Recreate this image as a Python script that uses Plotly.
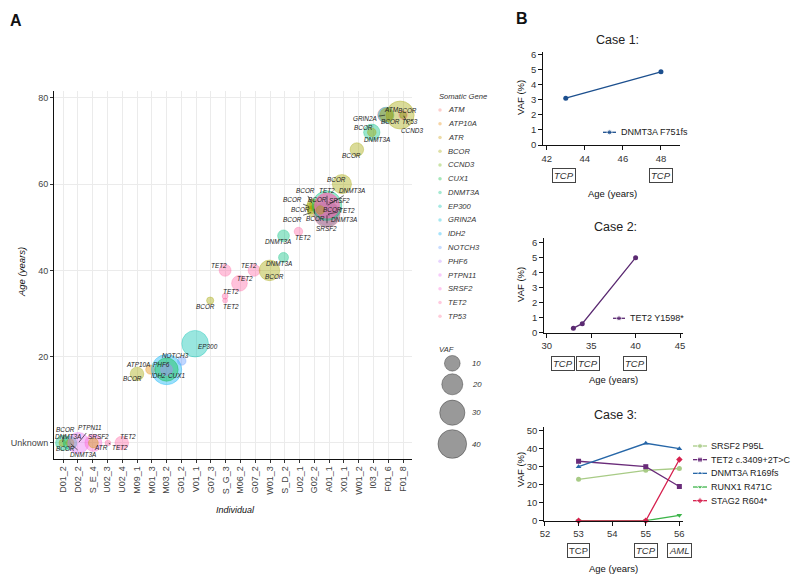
import math
import plotly.graph_objects as go

W, H = 792, 584

# ---------------- DATA ----------------
individuals = ["D01_2", "D02_2", "S_E_4", "U02_3", "U02_4", "M09_1", "M01_3", "M03_2",
               "G01_2", "V01_1", "G07_3", "S_G_3", "M06_2", "G07_2", "W01_3", "S_D_2",
               "U02_1", "G02_2", "A01_1", "X01_1", "W01_2", "I03_2", "F01_6", "F01_8"]
genes = ["ATM", "ATP10A", "ATR", "BCOR", "CCND3", "CUX1", "DNMT3A", "EP300", "GRIN2A",
         "IDH2", "NOTCH3", "PHF6", "PTPN11", "SRSF2", "TET2", "TP53"]
gene_colors = ["#F8766D", "#E58700", "#C99800", "#A3A500", "#6BB100", "#00BA38", "#00BF7D",
               "#00C0AF", "#00BCD8", "#00B0F6", "#619CFF", "#B983FF", "#E76BF3", "#FD61D1",
               "#FF67A4", "#FF6C91"]
age_ticks = [0, 20, 40, 60, 80]
age_ticktext = ["Unknown", "20", "40", "60", "80"]

# one entry per mutation (age 0 = Unknown)
bubble_individual = ["D01_2", "D01_2", "D02_2", "D02_2", "D02_2", "S_E_4", "S_E_4", "U02_3",
                     "U02_4", "M09_1", "M01_3", "M03_2", "M03_2", "M03_2", "G01_2", "V01_1",
                     "G07_3", "S_G_3", "S_G_3", "S_G_3", "M06_2", "G07_2", "W01_3", "S_D_2",
                     "S_D_2", "U02_1", "G02_2", "G02_2", "G02_2", "G02_2", "G02_2", "G02_2",
                     "A01_1", "A01_1", "A01_1", "A01_1", "A01_1", "A01_1", "G02_2", "X01_1",
                     "W01_2", "I03_2", "I03_2", "F01_6", "F01_6", "F01_6", "F01_8", "F01_8",
                     "F01_8"]
bubble_age = [0, 0, 0, 0, 0, 0, 0, 0,
              0, 16, 17, 17, 17, 17, 19, 23,
              33, 40, 34, 33, 37, 40, 40, 43,
              48, 49, 55.4, 54.7, 54.0, 53.5, 54.5, 55.2,
              53, 53, 53, 55, 55, 55, 54, 60,
              68, 72, 72, 76, 76, 76, 76, 76,
              76]
bubble_gene = ["DNMT3A", "BCOR", "DNMT3A", "BCOR", "PTPN11", "SRSF2", "ATR", "TET2",
               "TET2", "BCOR", "ATP10A", "IDH2", "CUX1", "PHF6", "NOTCH3", "EP300",
               "BCOR", "TET2", "TET2", "TET2", "TET2", "TET2", "BCOR", "DNMT3A",
               "DNMT3A", "TET2", "BCOR", "BCOR", "BCOR", "BCOR", "BCOR", "BCOR",
               "SRSF2", "DNMT3A", "TET2", "DNMT3A", "SRSF2", "TET2", "BCOR", "BCOR",
               "BCOR", "DNMT3A", "BCOR", "ATM", "GRIN2A", "BCOR", "BCOR", "TP53",
               "CCND3"]
bubble_vaf = [9, 1, 7, 1.5, 20, 12, 3, 0.5,
              7, 7, 2.5, 45, 25, 5, 2, 34,
              1.2, 5, 0.6, 0.3, 10, 5, 19, 3.1,
              4.9, 2, 3, 2, 1.5, 2.5, 1, 4,
              23, 30, 33, 43, 28, 30, 2, 16,
              7, 11, 2, 9, 10, 7, 38, 2,
              1]
bubble_jitter = [0.0, -0.05, -0.53, -0.53, 0.03, 0.05, 0.05, 0.03,
                 -0.03, 0.0, -0.1, 0.0, 0.0, 0.0, 0.03, -0.07,
                 -0.05, -0.04, -0.04, -0.04, -0.07, -0.08, -0.04, -0.09,
                 -0.09, -0.08, -0.15, -0.29, -0.22, -0.15, -0.02, 0.05,
                 -0.15, -0.15, -0.15, -0.15, -0.15, -0.15, 0.4, -0.14,
                 -0.13, -0.12, -0.12, -0.22, -0.15, -0.12, -0.2, 0.0,
                 0.0]

vaf_breaks = [10, 20, 30, 40]

case1_age = [43, 48]
case1_vaf = [3.1, 4.85]
case1_name = "DNMT3A F751fs"
case1_ticks = ["TCP", "TCP"]

case2_age = [33, 34, 40]
case2_vaf = [0.3, 0.6, 5.0]
case2_name = "TET2 Y1598*"
case2_ticks = ["TCP", "TCP", "TCP"]

case3_age = [53, 55, 56]
case3_names = ["SRSF2 P95L", "TET2 c.3409+2T>C", "DNMT3A R169fs", "RUNX1 R471C", "STAG2 R604*"]
case3_srsf2 = [23, 28, 29]
case3_tet2 = [33, 30, 19]
case3_dnmt3a = [30, 43, 40]
case3_runx1 = [0, 0, 3]
case3_stag2 = [0, 0, 34]
case3_ticks = ["TCP", "TCP", "AML"]

# ---------------- STYLE / LAYOUT ----------------
ALPHA = 0.4
FONT = "Liberation Sans, Arial, sans-serif"

# ggrepel-like label offsets (pixels) and whether a leader segment is drawn
label_dx = [5, 3, 13, -5, 12, 5, 8, 12,
            6, -5, -12, -8, 10, -5, -6, 13,
            -5, -6, 6, 6, 6, -5, 5, -5,
            -6, 5, -7, -18, -11, -20, 1, 2,
            0, 17, 20, 25, 13, 0, 12, -5,
            -5, 5, -8, 6, -21, 4, 7, 7,
            9]
label_dy = [-6, -13, 12, 6, -15, -6, 5, 5,
            -6, 5, -5, 6, 6, -5, -5, 3,
            6, -5, -5, 6, -5, -5, 6, 6,
            6, 6, -13, -7, 0, 7, 11, -5,
            14, 5, -4, -15, -5, -15, 0, -5,
            6, 7, -5, -6, 3, 6, -5, 6,
            15]
label_line = [0, 1, 1, 0, 1, 0, 0, 1,
              0, 0, 0, 0, 0, 0, 0, 0,
              0, 0, 0, 0, 0, 0, 0, 0,
              0, 0, 1, 1, 1, 1, 1, 0,
              1, 1, 1, 1, 1, 1, 0, 0,
              0, 0, 0, 0, 1, 0, 0, 1,
              1]


def rgba(hexc, a):
    hexc = hexc.lstrip("#")
    r, g, b = int(hexc[0:2], 16), int(hexc[2:4], 16), int(hexc[4:6], 16)
    return f"rgba({r},{g},{b},{a})"


def diam(v):
    return 2.7 + 4.11 * math.sqrt(v)


def dx(a, b):
    return [a / W, b / W]


def dy(top, bottom):
    return [(H - bottom) / H, (H - top) / H]


def py(p):
    return (H - p) / H


fig = go.Figure()

# ---------- Panel A bubbles ----------
gene_index = {g: i for i, g in enumerate(genes)}
ind_index = {s: i for i, s in enumerate(individuals)}
bx = [ind_index[s] + j for s, j in zip(bubble_individual, bubble_jitter)]
for k in range(len(bubble_gene)):
    g = bubble_gene[k]
    c = gene_colors[gene_index[g]]
    fig.add_trace(go.Scatter(
        x=[bx[k]], y=[bubble_age[k]], mode="markers", xaxis="x", yaxis="y",
        marker=dict(size=diam(bubble_vaf[k]), color=rgba(c, ALPHA),
                    line=dict(color=rgba(c, ALPHA), width=0.8)),
        showlegend=False, hoverinfo="skip", cliponaxis=False))

annotations = []
for k in range(len(bubble_gene)):
    annotations.append(dict(
        x=bx[k], y=bubble_age[k], xref="x", yref="y",
        text=f"<i>{bubble_gene[k]}</i>", showarrow=True, ax=label_dx[k], ay=label_dy[k],
        axref="pixel", ayref="pixel", arrowhead=0, arrowwidth=0.7, standoff=1,
        arrowcolor="#222" if label_line[k] else "rgba(0,0,0,0)",
        font=dict(family=FONT, size=6.4, color="#222")))


def text_at(x, y, text, size, color="#222", angle=0, xanchor="center"):
    annotations.append(dict(x=x / W, y=py(y), xref="paper", yref="paper", text=text,
                            textangle=angle, showarrow=False, xanchor=xanchor, yanchor="middle",
                            font=dict(family=FONT, size=size, color=color)))


# ---------- Panel B lines ----------
fig.add_trace(go.Scatter(x=case1_age, y=case1_vaf, mode="lines+markers", xaxis="x2", yaxis="y2",
                         line=dict(color="#1C4F8E", width=1.3),
                         marker=dict(size=5, color="#1C4F8E"), showlegend=False,
                         cliponaxis=False))
fig.add_trace(go.Scatter(x=case2_age, y=case2_vaf, mode="lines+markers", xaxis="x3", yaxis="y3",
                         line=dict(color="#5B2A72", width=1.3),
                         marker=dict(size=5, color="#5B2A72"), showlegend=False,
                         cliponaxis=False))
case3_series = [case3_srsf2, case3_tet2, case3_dnmt3a, case3_runx1, case3_stag2]
case3_colors = ["#A8CB86", "#6A2C7A", "#2767A8", "#3DB54A", "#D6204E"]
case3_symbols = ["circle", "square", "triangle-up", "triangle-down", "diamond"]
for vals, col, sym in zip(case3_series, case3_colors, case3_symbols):
    fig.add_trace(go.Scatter(x=case3_age, y=vals, mode="lines+markers", xaxis="x4", yaxis="y4",
                             line=dict(color=col, width=1.3),
                             marker=dict(size=5, color=col, symbol=sym), showlegend=False,
                             cliponaxis=False))

# ---------- overlay (pixel space) for legend keys ----------
gene_leg_x0, gene_leg_y0, gene_leg_step = 440, 110, 13.75
for i, g in enumerate(genes):
    yy = gene_leg_y0 + i * gene_leg_step
    fig.add_trace(go.Scatter(x=[gene_leg_x0], y=[yy], mode="markers", xaxis="x5", yaxis="y5",
                             marker=dict(size=3.5, color=rgba(gene_colors[i], 0.35)),
                             showlegend=False, hoverinfo="skip"))
    text_at(446, yy, f"<i>{g}</i>", 7.6, color="#333", xanchor="left")
text_at(437, 96, "<i>Somatic Gene</i>", 7.6, color="#333", xanchor="left")

vaf_leg_y = [363.3, 384.3, 412.7, 444]
for v, yy in zip(vaf_breaks, vaf_leg_y):
    fig.add_trace(go.Scatter(x=[452.3], y=[yy], mode="markers", xaxis="x5", yaxis="y5",
                             marker=dict(size=diam(v), color="rgba(0,0,0,0.4)",
                                         line=dict(color="rgba(0,0,0,0.4)", width=0.8)),
                             showlegend=False, hoverinfo="skip"))
    text_at(470, yy, f"<i>{v}</i>", 7.8, color="#333", xanchor="left")
text_at(437, 349, "<i>VAF</i>", 7.6, color="#333", xanchor="left")


def legend_key(x0, x1, yy, col, sym, text, tx):
    fig.add_trace(go.Scatter(x=[x0, (x0 + x1) / 2, x1], y=[yy, yy, yy], mode="lines+markers",
                             xaxis="x5", yaxis="y5", line=dict(color=col, width=1.3),
                             marker=dict(size=[0, 5, 0], color=col, symbol=sym),
                             showlegend=False, hoverinfo="skip"))
    text_at(tx, yy, text, 9, xanchor="left")


legend_key(603, 616, 132.3, "#1C4F8E", "circle", case1_name, 619)
legend_key(613, 625, 318.3, "#5B2A72", "circle", case2_name, 628)
for i, (nm, col, sym) in enumerate(zip(case3_names, case3_colors, case3_symbols)):
    legend_key(693, 707, 446 + i * 13.67, col, sym, nm, 709)

# ---------- texts ----------
text_at(16, 21, "<b>A</b>", 16, color="#111")
text_at(522, 18, "<b>B</b>", 16, color="#111")
text_at(21, 272, "<i>Age (years)</i>", 9.5, color="#111", angle=-90)
text_at(236, 510, "<i>Individual</i>", 9, color="#111")
text_at(617, 40, "Case 1:", 12.5)
text_at(615, 227, "Case 2:", 12.5)
text_at(615, 415, "Case 3:", 12.5)
for yc in (98, 285, 470):
    text_at(520, yc, "VAF (%)", 9.5, color="#111", angle=-90)
for xc, yc in ((612, 193), (613, 380), (613, 568)):
    text_at(xc, yc, "Age (years)", 9.5, color="#111")

box_style = dict(showarrow=False, bordercolor="#444", borderwidth=1, borderpad=1,
                 xanchor="center", yanchor="middle",
                 font=dict(family=FONT, size=9.5, color="#333"), bgcolor="white")
for xv, t in zip([42.9, 48.0], case1_ticks):
    annotations.append(dict(x=xv, y=py(175), xref="x2", yref="paper", text=f"<i>{t}</i>", **box_style))
for xv, t in zip([31.78, 34.7, 39.88], case2_ticks):
    annotations.append(dict(x=xv, y=py(363.5), xref="x3", yref="paper", text=f"<i>{t}</i>", **box_style))
for i, (xv, t) in enumerate(zip(case3_age, case3_ticks)):
    txt = t if i == 0 else f"<i>{t}</i>"
    annotations.append(dict(x=xv, y=py(550.5), xref="x4", yref="paper", text=txt, **box_style))

# ---------- axes ----------
tickfont_a = dict(family=FONT, size=9, color="#444")
tickfont_b = dict(family=FONT, size=9.5, color="#333")
common_b = dict(showline=True, linecolor="#111", linewidth=1.3, ticks="outside", ticklen=4,
                tickcolor="#111", tickwidth=1.3, showgrid=False, zeroline=False,
                tickfont=tickfont_b)

layout = dict(
    width=W, height=H, margin=dict(l=0, r=0, t=0, b=0, pad=0, autoexpand=False),
    paper_bgcolor="white", plot_bgcolor="rgba(0,0,0,0)", showlegend=False,
    xaxis=dict(domain=dx(54.2, 412), range=[-0.6, 23.6], tickmode="array",
               tickvals=list(range(len(individuals))), ticktext=individuals, tickangle=-90,
               showgrid=True, gridcolor="#EBEBEB", gridwidth=1, showline=True, linecolor="#111",
               linewidth=1.2, ticks="outside", ticklen=3, tickcolor="#333", zeroline=False,
               tickfont=tickfont_a, anchor="y"),
    yaxis=dict(domain=dy(91.3, 458.5), range=[-3.6, 81.5], tickmode="array", tickvals=age_ticks,
               ticktext=age_ticktext, showgrid=True, gridcolor="#EBEBEB", gridwidth=1,
               showline=True, linecolor="#111", linewidth=1.2, ticks="outside", ticklen=3,
               tickcolor="#333", zeroline=False, tickfont=tickfont_a, anchor="x"),
    xaxis2=dict(domain=dx(543.3, 680), range=[41.82, 49.0], tickvals=[42, 44, 46, 48], anchor="y2",
                **common_b),
    yaxis2=dict(domain=dy(51.7, 145), range=[0, 6.18], tickvals=[0, 1, 2, 3, 4, 5, 6], anchor="x2",
                **common_b),
    xaxis3=dict(domain=dx(544.3, 683), range=[29.73, 45.33], tickvals=[30, 35, 40, 45], anchor="y3",
                **common_b),
    yaxis3=dict(domain=dy(238.2, 332.7), range=[0, 6.3], tickvals=[0, 1, 2, 3, 4, 5, 6], anchor="x3",
                **common_b),
    xaxis4=dict(domain=dx(544.3, 683.3), range=[51.98, 56.117], tickvals=[52, 53, 54, 55, 56],
                anchor="y4", **common_b),
    yaxis4=dict(domain=dy(426.7, 520.7), range=[0, 52.2], tickvals=[0, 10, 20, 30, 40, 50],
                anchor="x4", **common_b),
    xaxis5=dict(domain=[0, 1], range=[0, W], visible=False, anchor="y5", fixedrange=True),
    yaxis5=dict(domain=[0, 1], range=[H, 0], visible=False, anchor="x5", fixedrange=True),
    annotations=annotations,
)
fig.update_layout(**layout)
fig.write_html("out.html", config={"displayModeBar": False},
               post_script="document.body.style.margin='0px';")
